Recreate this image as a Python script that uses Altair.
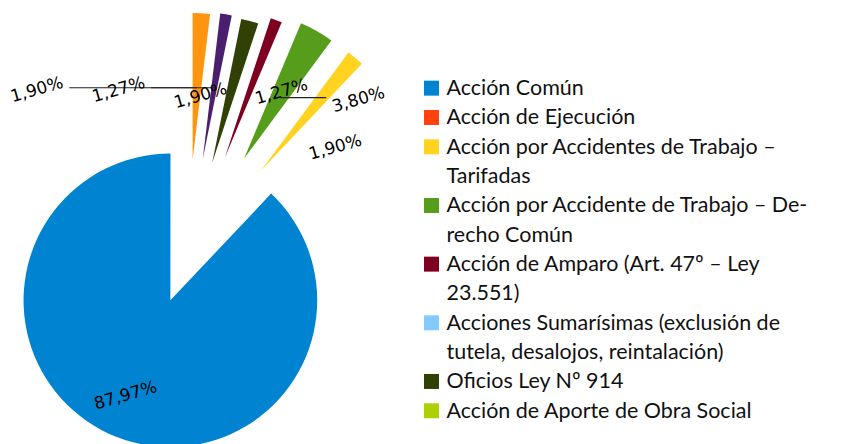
import math
import altair as alt
import pandas as pd

# ---------------- data ----------------
CATEGORIES = [
    "Acción Común",
    "Acción de Ejecución",
    "Acción por Accidentes de Trabajo – Tarifadas",
    "Acción por Accidente de Trabajo – Derecho Común",
    "Acción de Amparo (Art. 47º – Ley 23.551)",
    "Acciones Sumarísimas (exclusión de tutela, desalojos, reintalación)",
    "Oficios Ley Nº 914",
    "Acción de Aporte de Obra Social",
    "Categoría 9",
    "Categoría 10",
]
VALUES = [87.97, 0.0, 1.90, 3.80, 1.27, 0.0, 1.90, 0.0, 1.27, 1.90]

LEGEND_LINES = [
    ["Acción Común"],
    ["Acción de Ejecución"],
    ["Acción por Accidentes de Trabajo –", "Tarifadas"],
    ["Acción por Accidente de Trabajo – De-", "recho Común"],
    ["Acción de Amparo (Art. 47º – Ley", "23.551)"],
    ["Acciones Sumarísimas (exclusión de", "tutela, desalojos, reintalación)"],
    ["Oficios Ley Nº 914"],
    ["Acción de Aporte de Obra Social"],
]

# ---------------- style ----------------
COLORS = ["#0084D1", "#FF420E", "#FFD320", "#579D1C", "#7E0021",
          "#83CAFF", "#314004", "#AECF00", "#4B1F6F", "#FF950E"]
EXPLODE = [0.30, 0.0, 0.79, 0.79, 0.74, 0.0, 0.68, 0.0, 0.69, 0.68]   # in pie radii
LABEL_NUDGE_X = [-0.12, 0.0, 0.185, 0.532, 0.211, 0.0, -0.207, 0.0, -0.652, -1.09]
LABEL_NUDGE_Y = [-0.185, 0.0, -0.228, -0.035, -0.021, 0.0, -0.028, 0.0, -0.021, -0.024]
R_PX = 147

df = pd.DataFrame({
    "category": CATEGORIES,
    "value": VALUES,
    "idx": list(range(len(CATEGORIES))),
    "ex": EXPLODE,
    "nx": LABEL_NUDGE_X,
    "ny": LABEL_NUDGE_Y,
})

color_scale = alt.Scale(domain=CATEGORIES, range=COLORS)
xs = alt.Scale(domain=[-1.21, 1.375], nice=False, zero=False)
ys = alt.Scale(domain=[-1.255, 1.71], nice=False, zero=False)

base = (
    alt.Chart(df)
    .transform_window(cum="sum(value)", sort=[alt.SortField("idx", order="descending")],
                      frame=[None, 0])
    .transform_calculate(start="datum.cum - datum.value", end="datum.cum")
    .transform_filter("datum.value > 0")
    .transform_calculate(ang="(datum.start + datum.end) / 100 * PI")
    .transform_calculate(cx="datum.ex * sin(datum.ang)", cy="datum.ex * cos(datum.ang)")
    .transform_calculate(ax="(datum.ex + 0.5) * sin(datum.ang)",
                         ay="(datum.ex + 0.5) * cos(datum.ang)")
    .transform_calculate(lx="datum.ax + datum.nx", ly="datum.ay + datum.ny")
    .transform_calculate(
        label="replace(format(datum.value, '.2f'), '.', ',') + '%'",
        rx1="datum.lx + (datum.nx < 0 ? 0.22 : -0.22)",
        ry="datum.ly + 0.015",
    )
)

arcs = base.mark_arc(radius=R_PX).encode(
    x=alt.X("cx:Q", scale=xs, axis=None),
    y=alt.Y("cy:Q", scale=ys, axis=None),
    theta=alt.Theta("start:Q", scale=alt.Scale(domain=[0, 100], range=[0, 2 * math.pi]), stack=None),
    theta2="end:Q",
    color=alt.Color("category:N", scale=color_scale, legend=None),
)

rules = base.transform_filter("abs(datum.nx) > 0.3").mark_rule(
    color="#222222", strokeWidth=1.2
).encode(
    x=alt.X("rx1:Q", scale=xs, axis=None),
    x2="ax:Q",
    y=alt.Y("ry:Q", scale=ys, axis=None),
)

labels = base.mark_text(
    font="DejaVu Sans", fontSize=17, angle=344, align="center", baseline="middle", color="#000000"
).encode(
    x=alt.X("lx:Q", scale=xs, axis=None),
    y=alt.Y("ly:Q", scale=ys, axis=None),
    text="label:N",
)

pie = alt.layer(arcs, rules, labels).properties(width=380, height=436)

# ---------------- legend ----------------
rows = []
line_no = 0
for i, lines in enumerate(LEGEND_LINES):
    for j, t in enumerate(lines):
        rows.append({"category": CATEGORIES[i], "text": t, "line": line_no, "first": j == 0})
        line_no += 1
ldf = pd.DataFrame(rows)
yl = alt.Scale(type="point", domain=list(range(line_no)), range=[87, 410], padding=0)

lbase = alt.Chart(ldf)
squares = lbase.transform_filter("datum.first").mark_square(
    size=225, opacity=1, yOffset=-7
).encode(
    x=alt.value(23),
    y=alt.Y("line:O", scale=yl, axis=None),
    color=alt.Color("category:N", scale=color_scale, legend=None),
)
ltext = lbase.mark_text(
    font="Lato", fontSize=21.5, align="left", baseline="alphabetic", color="#111111"
).encode(
    x=alt.value(38),
    y=alt.Y("line:O", scale=yl, axis=None),
    text="text:N",
)
legend = alt.layer(squares, ltext).properties(width=440, height=436)

chart = (
    alt.hconcat(pie, legend, spacing=20)
    .properties(padding=0)
    .configure_view(stroke=None)
)

chart.save("out.html", embed_options={"renderer": "svg", "actions": False})
